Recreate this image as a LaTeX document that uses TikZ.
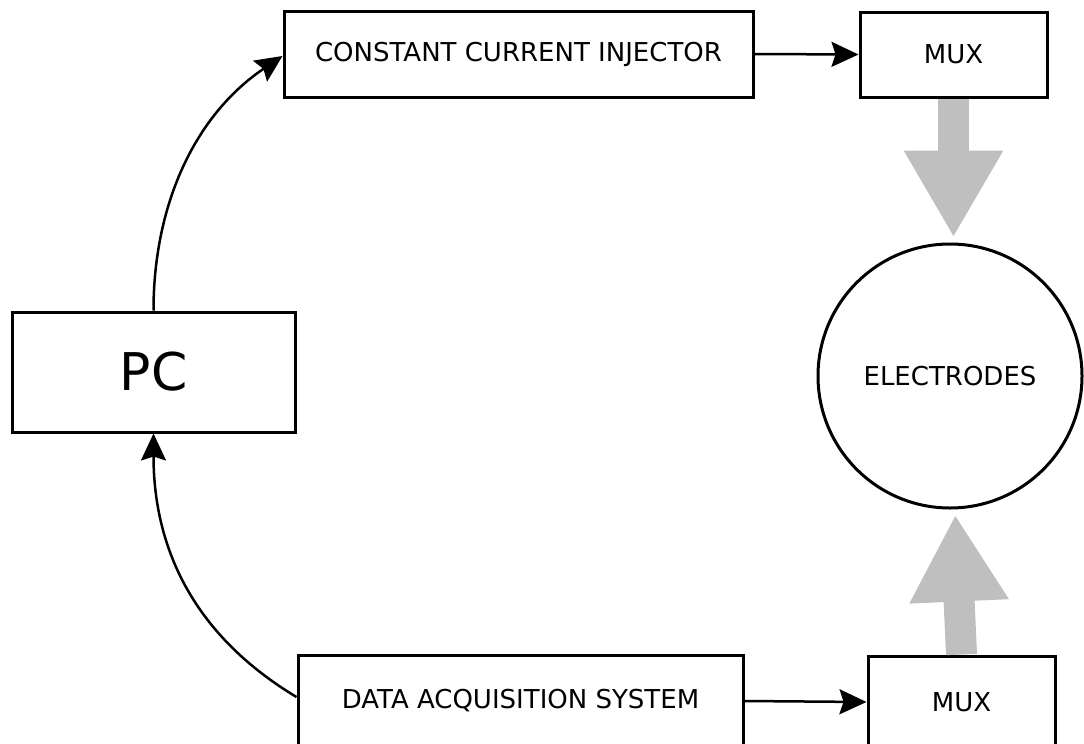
\documentclass[tikz,border=0pt]{standalone}
\usepackage{fontspec}
\setmainfont{DejaVu Sans}
\usetikzlibrary{arrows.meta}

\begin{document}
\begin{tikzpicture}[x=1pt,y=-1pt,
   block/.style={draw,line width=3pt,inner sep=0pt,font=\fontsize{26}{30}\selectfont},
   link/.style={line width=2.5pt,-{Stealth[length=27pt,width=25pt,inset=4pt]}},
   bus/.style={line width=31pt,draw=black!25,-{Triangle[length=87pt,width=93pt]},shorten >=5pt}]
   \useasboundingbox (0,0) rectangle (1084,744);
   \clip (0,0) rectangle (1084,744);
   \node[block,minimum width=469pt,minimum height=86pt] (cci) at (518.5,54) {CONSTANT CURRENT INJECTOR};
   \node[block,minimum width=187pt,minimum height=85pt] (mux1) at (953.5,54.5) {MUX};
   \node[block,minimum width=283pt,minimum height=120pt,font=\fontsize{52}{60}\selectfont] (pc) at (153.5,372) {PC};
   \node[block,circle,minimum size=264pt] (elec) at (950,376) {ELECTRODES};
   \node[block,minimum width=445pt,minimum height=92pt] (das) at (520.5,701) {DATA ACQUISITION SYSTEM};
   \node[block,minimum width=187pt,minimum height=92pt] (mux2) at (961.5,702) {MUX};
   % flow of data
   \draw[link] (pc.north) to[out=90,in=214,looseness=0.95] ([yshift=-2pt]cci.west);
   \draw[link] (cci.east) -- (mux1.west);
   \draw[link] (das.east) -- (mux2.west);
   \draw[link] ([yshift=4pt]das.west) to[out=149,in=-90] (pc.south);
   % electrode buses
   \draw[bus] (mux1.south) -- (mux1.south |- elec.north);
   \draw[bus] (mux2.north) -- ([xshift=5pt]elec.south);
\end{tikzpicture}
\end{document}
